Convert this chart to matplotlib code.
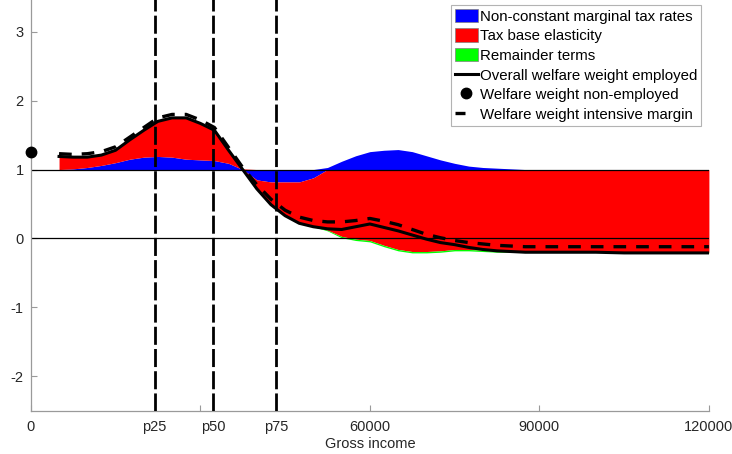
import numpy as np
import matplotlib.pyplot as plt
from matplotlib.patches import Patch
from matplotlib.lines import Line2D

plt.rcParams['font.family'] = ['Liberation Sans', 'DejaVu Sans']
plt.rcParams['axes.unicode_minus'] = False

# gross income grid
income = [5000, 7500, 10000, 12500, 15000, 17500, 20000, 22500, 25000, 27500,
          30000, 32500, 35000, 37500, 40000, 42500, 45000, 47500, 50000, 52500,
          55000, 57500, 60000, 62500, 65000, 67500, 70000, 72500, 75000, 77500,
          80000, 82500, 85000, 87500, 90000, 95000, 100000, 105000, 110000,
          115000, 120000]

# decomposition components (deviation from 1)
marg_tax = [0.00, 0.01, 0.03, 0.06, 0.10, 0.15, 0.18, 0.19, 0.18, 0.15,
            0.14, 0.13, 0.09, 0.00, -0.15, -0.18, -0.18, -0.18, -0.12, 0.03,
            0.12, 0.20, 0.26, 0.28, 0.29, 0.26, 0.20, 0.14, 0.09, 0.05,
            0.03, 0.02, 0.01, 0.00, 0.00, 0.00, 0.00, 0.00, 0.00,
            0.00, 0.00]
elasticity = [0.20, 0.18, 0.16, 0.16, 0.19, 0.29, 0.40, 0.52, 0.58, 0.61,
              0.54, 0.45, 0.20, 0.01, -0.12, -0.32, -0.48, -0.59, -0.70, -0.88,
              -0.97, -1.01, -1.03, -1.10, -1.16, -1.19, -1.19, -1.18, -1.16, -1.16,
              -1.17, -1.19, -1.19, -1.19, -1.19, -1.19, -1.19, -1.20, -1.20,
              -1.20, -1.20]
remainder = [-0.01, -0.01, -0.01, -0.01, -0.01, -0.01, -0.01, -0.01, -0.01, -0.01,
             -0.01, -0.01, -0.01, -0.01, -0.01, -0.01, -0.01, -0.01, -0.01, -0.01,
             -0.02, -0.02, -0.02, -0.02, -0.02, -0.02, -0.02, -0.02, -0.02, -0.02,
             -0.02, -0.01, -0.01, -0.01, -0.01, -0.01, -0.01, -0.01, -0.01,
             -0.01, -0.01]

weight_employed = [1.19, 1.18, 1.18, 1.21, 1.28, 1.43, 1.57, 1.70, 1.75, 1.75,
                   1.67, 1.57, 1.28, 1.00, 0.72, 0.49, 0.33, 0.22, 0.17, 0.14,
                   0.13, 0.17, 0.21, 0.16, 0.11, 0.05, -0.01, -0.06, -0.09, -0.13,
                   -0.16, -0.18, -0.19, -0.20, -0.20, -0.20, -0.20, -0.21, -0.21,
                   -0.21, -0.21]
weight_intensive = [1.23, 1.22, 1.23, 1.26, 1.33, 1.47, 1.61, 1.75, 1.80, 1.80,
                    1.72, 1.61, 1.32, 1.03, 0.78, 0.57, 0.41, 0.31, 0.26, 0.24,
                    0.24, 0.26, 0.29, 0.25, 0.20, 0.13, 0.06, 0.01, -0.03, -0.06,
                    -0.08, -0.10, -0.11, -0.12, -0.12, -0.12, -0.12, -0.12, -0.12,
                    -0.12, -0.12]
weight_nonemployed = 1.26

p25, p50, p75 = 21900, 32270, 43350
xticks = [0, p25, 30000, p50, p75, 60000, 90000, 120000]
xticklabels = ['0', 'p25', '', 'p50', 'p75', '60000', '90000', '120000']

comp_names = ['Non-constant marginal tax rates', 'Tax base elasticity', 'Remainder terms']
comp_colors = ['#0000ff', '#ff0000', '#00ff00']

fig = plt.figure(figsize=(7.32, 4.54), dpi=100)
ax = fig.add_axes([30.8/732, (454-410.7)/454, (708.9-30.8)/732, (410.7+2.7)/454])

x = np.array(income)
pos_base = np.ones(len(x))
neg_base = np.ones(len(x))
for comp, col in zip([marg_tax, elasticity, remainder], comp_colors):
    c = np.array(comp)
    pos = np.clip(c, 0, None)
    neg = np.clip(c, None, 0)
    ax.fill_between(x, pos_base, pos_base + pos, color=col, lw=0, zorder=1)
    ax.fill_between(x, neg_base, neg_base + neg, color=col, lw=0, zorder=1)
    pos_base = pos_base + pos
    neg_base = neg_base + neg

ax.plot([0, 120000], [1, 1], color='k', lw=0.9, zorder=2)
ax.plot([0, 120000], [0, 0], color='k', lw=0.9, zorder=2)

for p in [p25, p50, p75]:
    ax.axvline(p, color='k', lw=2.0, dashes=(6.5, 1.5), zorder=3)

ax.plot(x, weight_employed, color='k', lw=2.2, zorder=4)
ax.plot(x, weight_intensive, color='k', lw=2.4, dashes=(3.8, 3.0), zorder=4)
ax.plot([0], [weight_nonemployed], 'o', color='k', ms=7.5, zorder=5, clip_on=False)

ax.set_xlim(0, 120000)
ax.set_ylim(-2.5, 3.5)
ax.set_yticks([-2, -1, 0, 1, 2, 3])
ax.set_xticks(xticks)
ax.set_xticklabels(xticklabels)
ax.tick_params(direction='in', length=4, width=0.8, color='#9a9a9a',
               labelcolor='#262626', labelsize=10.5)
ax.tick_params(axis='x', pad=7)
ax.tick_params(axis='y', pad=5)
for s in ['top', 'right']:
    ax.spines[s].set_visible(False)
for s in ['left', 'bottom']:
    ax.spines[s].set_color('#9a9a9a')
    ax.spines[s].set_linewidth(0.9)
ax.set_xlabel('Gross income', fontsize=10.5, color='#262626', labelpad=2)

handles = [Patch(facecolor=c, edgecolor='#808080', lw=0.5) for c in comp_colors]
handles += [Line2D([], [], color='k', lw=2.2),
            Line2D([], [], color='k', marker='o', ls='none', ms=7.5),
            Line2D([], [], color='k', lw=2.4, dashes=(3.0, 4.0))]
labels = comp_names + ['Overall welfare weight employed', 'Welfare weight non-employed',
                       'Welfare weight intensive margin']
leg = ax.legend(handles, labels, loc='upper right', bbox_to_anchor=(701/732, 1 - 5/454),
                bbox_transform=fig.transFigure, fontsize=10.8, frameon=True, fancybox=False,
                edgecolor='#a0a0a0', borderpad=0.25, labelspacing=0.32, handlelength=1.5,
                handleheight=1.0, handletextpad=0.15, borderaxespad=0)
leg.get_frame().set_linewidth(0.8)

fig.savefig('out.png', dpi=100)
